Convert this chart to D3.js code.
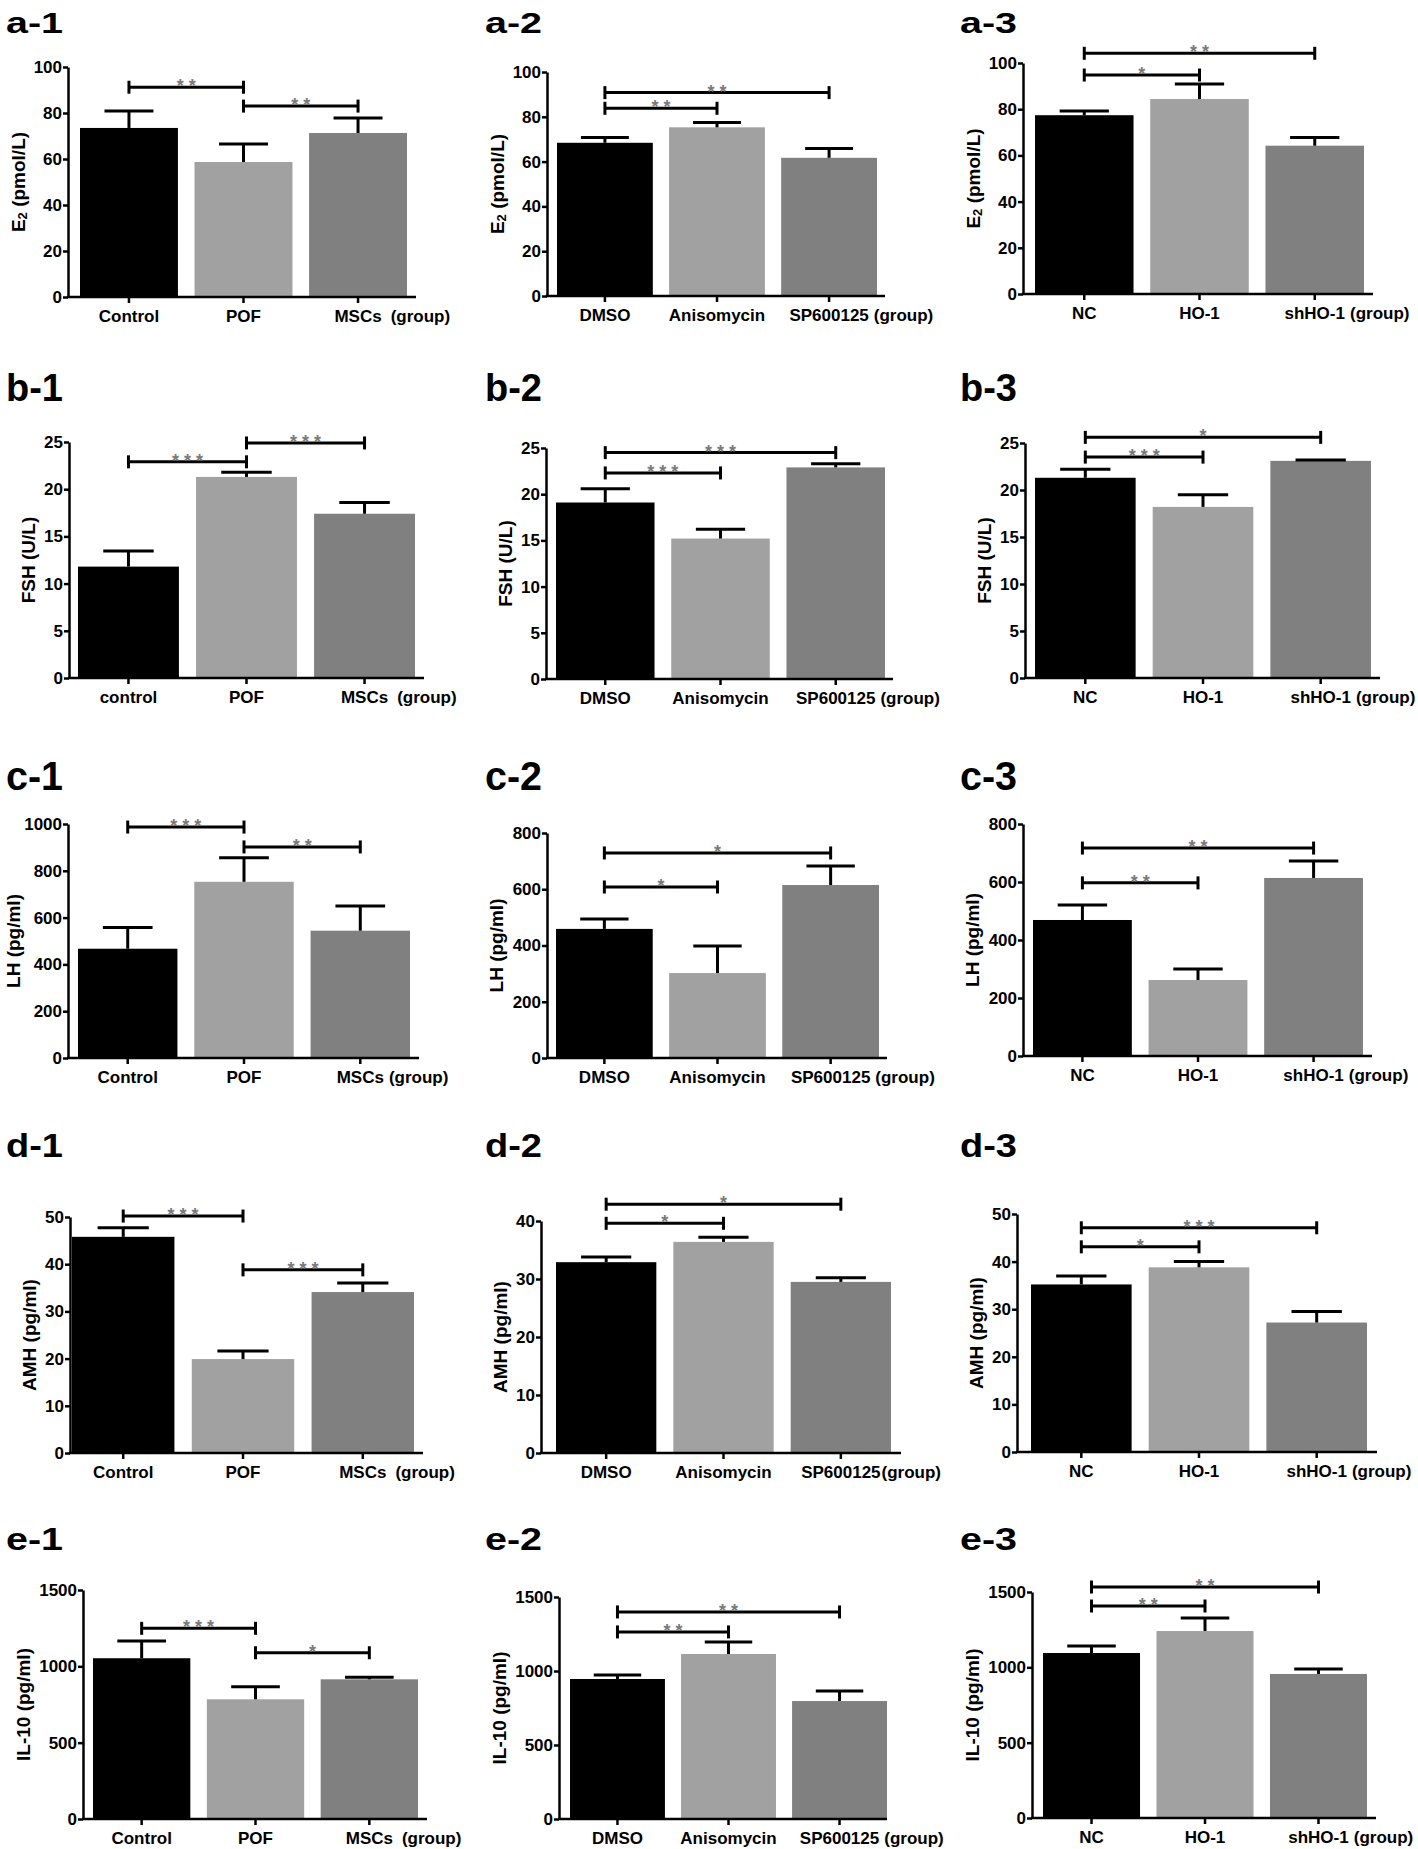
<!DOCTYPE html>
<html><head><meta charset="utf-8">
<script src="https://cdn.jsdelivr.net/npm/d3@7"></script>
<style>
body{margin:0;background:#fff}
svg{display:block}
text{font-family:"Liberation Sans",Arial,sans-serif;font-weight:bold;fill:#000}
</style>
</head><body>
<svg id="chart" width="1418" height="1849"></svg>
<script>
// ---------------- DATA ----------------
const panelNames = [["a-1","a-2","a-3"],["b-1","b-2","b-3"],["c-1","c-2","c-3"],["d-1","d-2","d-3"],["e-1","e-2","e-3"]];
const groupsCol1 = ["Control","POF","MSCs"];
const groupsCol1b = ["control","POF","MSCs"];
const groupsCol2 = ["DMSO","Anisomycin","SP600125"];
const groupsCol3 = ["NC","HO-1","shHO-1"];
const groupSuffix = "(group)";
const yTitles = ["E2 (pmol/L)","FSH (U/L)","LH (pg/ml)","AMH (pg/ml)","IL-10 (pg/ml)"];

const ticksE2  = [[0,20,40,60,80,100],[0,20,40,60,80,100],[0,20,40,60,80,100]];
const ticksFSH = [[0,5,10,15,20,25],[0,5,10,15,20,25],[0,5,10,15,20,25]];
const ticksLH  = [[0,200,400,600,800,1000],[0,200,400,600,800],[0,200,400,600,800]];
const ticksAMH = [[0,10,20,30,40,50],[0,10,20,30,40],[0,10,20,30,40,50]];
const ticksIL10= [[0,500,1000,1500],[0,500,1000,1500],[0,500,1000,1500]];

// bar means
const meanE2  = [[73.5,58.7,71.3],[68.4,75.3,61.7],[77.4,84.4,64.2]];
const meanFSH = [[11.8,21.3,17.4],[19.1,15.2,22.9],[21.3,18.2,23.1]];
const meanLH  = [[467,753,544],[459,302,615],[469,262,614]];
const meanAMH = [[45.8,19.9,34.1],[32.9,36.4,29.5],[35.2,38.8,27.2]];
const meanIL10= [[1053,784,915],[946,1115,797],[1095,1241,956]];

// upper end of error bars (mean + SEM)
const upperE2  = [[80.9,66.5,77.8],[70.8,77.4,65.9],[79.2,90.9,67.8]];
const upperFSH = [[13.45,21.8,18.6],[20.6,16.2,23.3],[22.2,19.5,23.2]];
const upperLH  = [[558,856,650],[494,398,683],[521,300,672]];
const upperAMH = [[47.7,21.6,36.0],[33.8,37.2,30.2],[37.0,40.0,29.5]];
const upperIL10= [[1166,867,928],[973,1196,865],[1142,1327,989]];

// significance brackets: [from group, to group, level, stars]
const sigE2  = [[[0,1,91.2,"**"],[1,2,83.0,"**"]],[[0,1,83.8,"**"],[0,2,90.8,"**"]],[[0,1,94.8,"*"],[0,2,104.2,"**"]]];
const sigFSH = [[[0,1,22.9,"***"],[1,2,24.9,"***"]],[[0,1,22.3,"***"],[0,2,24.5,"***"]],[[0,1,23.5,"***"],[0,2,25.6,"*"]]];
const sigLH  = [[[0,1,987,"***"],[1,2,902,"**"]],[[0,1,608,"*"],[0,2,729,"*"]],[[0,1,597,"**"],[0,2,717,"**"]]];
const sigAMH = [[[0,1,50.2,"***"],[1,2,38.8,"***"]],[[0,1,39.6,"*"],[0,2,42.9,"*"]],[[0,1,43.1,"*"],[0,2,47.1,"***"]]];
const sigIL10= [[[0,1,1249,"***"],[1,2,1089,"*"]],[[0,1,1264,"**"],[0,2,1399,"**"]],[[0,1,1407,"**"],[0,2,1533,"**"]]];

// ---------------- LAYOUT ----------------
// per panel: [yAxisX, xAxisEnd, firstBarLeft, lastBarRight, yPxAtMaxTick, yPxAtZero]
const layout = [
  [[68,416,80,407,67,297],[547,885,557,877,72,296],[1023,1373,1035,1364,63,294]],
  [[69,424,78,415,442,678],[546,893,556,885,448,679],[1025,1380,1035,1371,443,678]],
  [[68,419,78,410,824,1058],[547,887,556,879,833,1058],[1023,1372,1033,1363,824,1056]],
  [[70,423,72,414,1217,1453],[541,901,556,891,1221,1453],[1017,1377,1031,1367,1214,1452]],
  [[83,427,93,418,1590,1819],[559,887,570,887,1597,1819],[1032,1376,1043,1367,1592,1818]]
];
const titleX = [6,485,960];
const titleBase = [33,401,790,1157,1550];
const titleSize = [30,39,41,34,32];
const barColors = ["#000000","#a1a1a1","#808080"];
const starColor = "#7a7a7a";

const rows = [
  {ticks:ticksE2, mean:meanE2, upper:upperE2, sig:sigE2},
  {ticks:ticksFSH, mean:meanFSH, upper:upperFSH, sig:sigFSH},
  {ticks:ticksLH, mean:meanLH, upper:upperLH, sig:sigLH},
  {ticks:ticksAMH, mean:meanAMH, upper:upperAMH, sig:sigAMH},
  {ticks:ticksIL10, mean:meanIL10, upper:upperIL10, sig:sigIL10}
];

const svg = d3.select("#chart");

rows.forEach((row, r) => {
  for (let c = 0; c < 3; c++) {
    const [ax, xEnd, b0, b1, yTopPx, yZeroPx] = layout[r][c];
    let cats = c === 0 ? groupsCol1 : (c === 1 ? groupsCol2 : groupsCol3);
    if (r === 1 && c === 0) cats = groupsCol1b;
    const ticks = row.ticks[c];
    const means = row.mean[c], uppers = row.upper[c], sig = row.sig[c];

    const x = d3.scaleBand().domain(cats).range([b0, b1]).paddingInner(0.145).paddingOuter(0);
    const y = d3.scaleLinear().domain([0, ticks[ticks.length-1]]).range([yZeroPx, yTopPx]);
    const g = svg.append("g");

    // panel title
    g.append("text").attr("x", titleX[c]).attr("y", titleBase[r])
      .attr("font-size", titleSize[r]).attr("textLength", 57).attr("lengthAdjust","spacingAndGlyphs")
      .text(panelNames[r][c]);

    // bars
    g.selectAll("rect.bar").data(cats).join("rect").attr("class","bar")
      .attr("x", d => x(d)).attr("width", x.bandwidth())
      .attr("y", (d,i) => y(means[i])).attr("height", (d,i) => y(0) - y(means[i]))
      .attr("fill", (d,i) => barColors[i]);

    // error bars (upper only)
    const capW = x.bandwidth() * 0.5;
    cats.forEach((d,i) => {
      const cx = x(d) + x.bandwidth()/2;
      g.append("line").attr("x1",cx).attr("x2",cx).attr("y1",y(means[i])).attr("y2",y(uppers[i]))
        .attr("stroke","#000").attr("stroke-width",3);
      g.append("line").attr("x1",cx-capW/2).attr("x2",cx+capW/2).attr("y1",y(uppers[i])).attr("y2",y(uppers[i]))
        .attr("stroke","#000").attr("stroke-width",3);
    });

    // y axis
    const ya = g.append("g").attr("transform",`translate(${ax},0)`)
      .call(d3.axisLeft(y).tickValues(ticks).tickSize(5).tickSizeOuter(0).tickPadding(1).tickFormat(d3.format("d")));
    ya.select(".domain").attr("stroke","#000").attr("stroke-width",2.5);
    ya.selectAll(".tick line").attr("stroke","#000").attr("stroke-width",2.5);
    ya.selectAll(".tick text").attr("font-size",17).attr("font-family",null).attr("fill","#000");

    // x axis
    const xa = g.append("g").attr("transform",`translate(0,${yZeroPx})`)
      .call(d3.axisBottom(x).tickSize(6).tickSizeOuter(0).tickPadding(7));
    xa.select(".domain").remove();
    xa.append("line").attr("x1", ax-1).attr("x2", xEnd).attr("y1",0).attr("y2",0)
      .attr("stroke","#000").attr("stroke-width",2.5);
    xa.selectAll(".tick line").attr("stroke","#000").attr("stroke-width",2.5);
    xa.selectAll(".tick text").attr("font-size",17).attr("font-family",null).attr("fill","#000");
    // "(group)" suffix after last category
    const lastTick = xa.selectAll(".tick").filter((d,i) => i === cats.length-1);
    const lastText = lastTick.select("text");
    const lw = lastText.node().getComputedTextLength();
    const lastX = x(cats[cats.length-1]) + x.bandwidth()/2;
    const gap = (r === 3 && c === 1) ? 1 : (c === 0 && r !== 2 ? 9 : 5);
    xa.append("text").attr("x", lastX + lw/2 + gap).attr("y", 13).attr("dy","0.71em")
      .attr("font-size",17).attr("text-anchor","start").text(groupSuffix);

    // y title
    const bb = ya.node().getBBox();
    const tx = Math.max(ax + bb.x - 16, 13);
    const ty = (yTopPx + yZeroPx)/2;
    const yt = g.append("text").attr("transform",`translate(${tx},${ty}) rotate(-90)`)
      .attr("text-anchor","middle").attr("dominant-baseline","central").attr("font-size",19);
    const title = yTitles[r];
    if (r === 0) {
      yt.append("tspan").text("E");
      yt.append("tspan").attr("font-size",13).attr("dy",4).text("2");
      yt.append("tspan").attr("dy",-4).text(" (pmol/L)");
    } else {
      yt.text(title);
    }

    // significance brackets
    sig.forEach(([i, j, lvl, stars]) => {
      const x1 = x(cats[i]) + x.bandwidth()/2, x2 = x(cats[j]) + x.bandwidth()/2;
      const yy = y(lvl);
      g.append("line").attr("x1",x1).attr("x2",x2).attr("y1",yy).attr("y2",yy).attr("stroke","#000").attr("stroke-width",3);
      [x1,x2].forEach(xx => g.append("line").attr("x1",xx).attr("x2",xx).attr("y1",yy-6.5).attr("y2",yy+6.5)
        .attr("stroke","#000").attr("stroke-width",3));
      g.append("text").attr("x",(x1+x2)/2 + 2.5).attr("y",yy+5).attr("text-anchor","middle")
        .attr("font-size",18).attr("letter-spacing",5).style("fill",starColor).text(stars);
    });
  }
});
</script>
</body></html>
